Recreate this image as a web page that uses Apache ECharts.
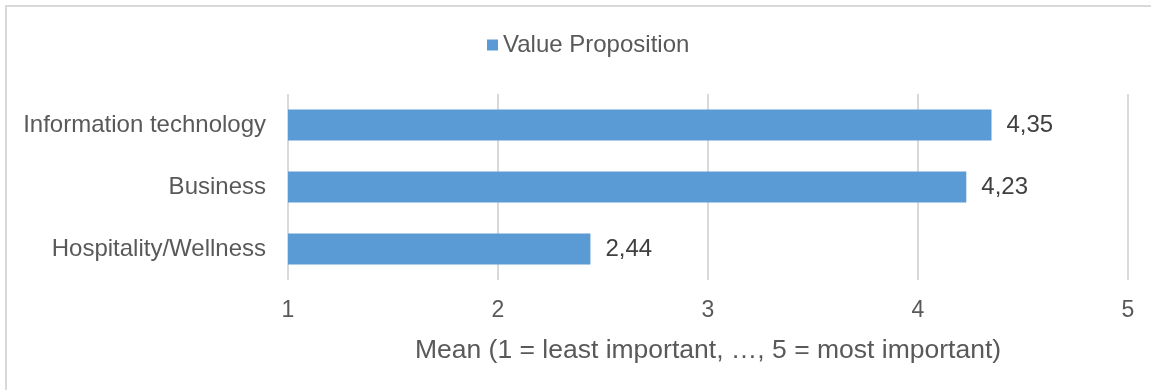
<!DOCTYPE html>
<html>
<head>
<meta charset="utf-8">
<style>
  html, body { margin: 0; padding: 0; background: #ffffff; }
  #chart { width: 1151px; height: 390px; }
</style>
<script src="https://cdn.jsdelivr.net/npm/echarts@6/dist/echarts.min.js"></script>
</head>
<body>
<div id="chart"></div>
<script>
// Sector categories, top to bottom
const categories = ['Information technology', 'Business', 'Hospitality/Wellness'];
// Mean importance scores for the value proposition
const seriesName = 'Value Proposition';
const values = [4.35, 4.23, 2.44];
// Scale of the mean axis
const axisMin = 1;
const axisMax = 5;
const axisStep = 1;
const axisTitle = 'Mean (1 = least important, \u2026, 5 = most important)';

const FONT = '"Liberation Sans", Arial, sans-serif';
const chart = echarts.init(document.getElementById('chart'), null, { renderer: 'canvas' });

chart.setOption({
  animation: false,
  backgroundColor: '#ffffff',
  textStyle: { fontFamily: FONT },
  graphic: [{
    type: 'rect',
    shape: { x: 6, y: 6, width: 1300, height: 600 },
    style: { fill: 'none', stroke: '#d9d9d9', lineWidth: 2 },
    silent: true
  }],
  legend: {
    top: 28,
    left: 482,
    itemWidth: 11,
    itemHeight: 11,
    itemGap: 8,
    icon: 'rect',
    textStyle: { fontFamily: FONT, fontSize: 24, color: '#595959' },
    data: [seriesName]
  },
  grid: { left: 288, right: 23, top: 94, bottom: 110, containLabel: false },
  xAxis: {
    type: 'value',
    min: axisMin,
    max: axisMax,
    interval: axisStep,
    axisLine: { show: false },
    axisTick: { show: false },
    splitLine: { show: true, lineStyle: { color: '#d9d9d9', width: 2 } },
    axisLabel: { fontFamily: FONT, fontSize: 23, color: '#595959', margin: 19 },
    name: axisTitle,
    nameLocation: 'middle',
    nameGap: 57,
    nameTextStyle: { fontFamily: FONT, fontSize: 26.5, color: '#595959' }
  },
  yAxis: {
    type: 'category',
    inverse: true,
    data: categories,
    axisLine: { show: false },
    axisTick: { show: false },
    splitLine: { show: false },
    axisLabel: { fontFamily: FONT, fontSize: 24, color: '#595959', margin: 22 }
  },
  series: [{
    name: seriesName,
    type: 'bar',
    data: values,
    barWidth: 31,
    itemStyle: { color: '#5b9bd5' },
    label: {
      show: true,
      position: 'right',
      distance: 15,
      fontFamily: FONT,
      fontSize: 24,
      color: '#404040',
      formatter: p => p.value.toFixed(2).replace('.', ',')
    }
  }]
});
</script>
</body>
</html>
